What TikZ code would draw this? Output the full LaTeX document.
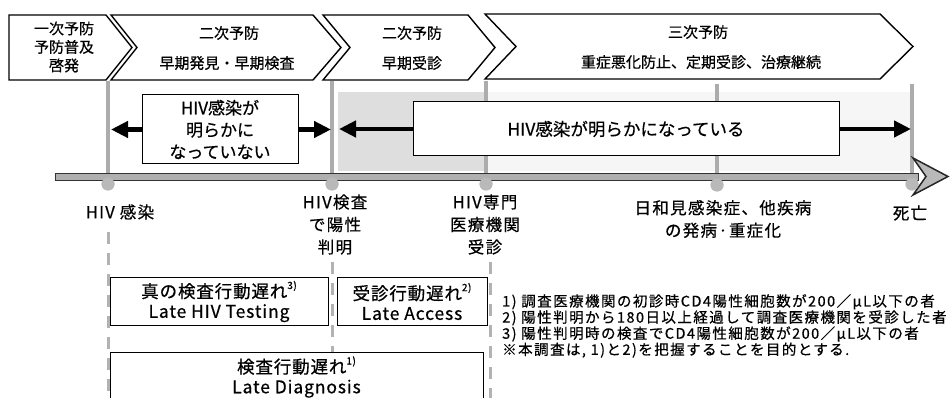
\documentclass[tikz,border=0pt]{standalone}
\usepackage{fontspec}
\setmainfont{Noto Sans CJK JP}[FakeBold=0.6]
\newfontfamily\jpsp{Noto Sans CJK JP}[LetterSpace=8,FakeBold=0.6]
\newfontfamily\jpspb{Noto Sans CJK JP}[LetterSpace=5,FakeBold=0.6]
\newfontfamily\jpnote{Noto Sans CJK JP}[LetterSpace=10,FakeBold=0.5]
\usetikzlibrary{arrows.meta}
\newcommand\supr[1]{\raisebox{0.5em}{\fontsize{10}{10}\selectfont #1}}
\begin{document}
\begin{tikzpicture}[x=1pt,y=-1pt,
  chev/.style={draw=black, line width=1.4pt, fill=white, line join=miter},
  vline/.style={draw=gray!65, line width=3.5pt},
  dline/.style={draw=gray!60, line width=3pt, dash pattern=on 12pt off 9pt},
  tdot/.style={circle, fill=gray!55, minimum size=13pt, inner sep=0pt},
  box/.style={draw=black, line width=1pt, fill=white, inner sep=0pt, align=center},
  barrow/.style={draw=black, line width=4.5pt, -{Triangle[length=17pt,width=16pt]}},
  lbl/.style={align=center, inner sep=0pt},
  chevtxt/.style={lbl, font=\fontsize{15}{18.5}\selectfont},
  tltxt/.style={lbl, font=\jpsp\fontsize{16.5}{22.5}\selectfont},
  lowbox/.style={box, font=\jpspb\fontsize{17.5}{20}\selectfont},
]
\useasboundingbox (0,0) rectangle (951,398);
\clip (0,0) rectangle (951,398);

% shaded period
\fill[gray!7] (338,92) rectangle (912,171);
\fill[gray!26] (338,92) rectangle (486,171);

% chevrons
\path[chev] (9,15) -- (106,15) -- (132,47.5) -- (106,80) -- (9,80) -- cycle;
\path[chev] (111,15) -- (313,15) -- (341,47.5) -- (313,80) -- (111,80) -- (137,47.5) -- cycle;
\path[chev] (323,15) -- (468,15) -- (495,47.5) -- (468,80) -- (323,80) -- (350,47.5) -- cycle;
\path[chev] (485,14) -- (880,14) -- (913,46.5) -- (880,79) -- (485,79) -- (516,46.5) -- cycle;

\node[chevtxt] (c1) at (64,47) {一次予防\\予防普及\\啓発};
\node[chevtxt] (c2a) at (229,33) {二次予防};
\node[chevtxt] (c2b) at (227,63) {早期発見・早期検査};
\node[chevtxt] (c3a) at (412,33) {二次予防};
\node[chevtxt] (c3b) at (412,63) {早期受診};
\node[chevtxt] (c4a) at (698,32) {三次予防};
\node[chevtxt] (c4b) at (701,62) {重症悪化防止、定期受診、治療継続};

% event dots and vertical lines
\node[tdot] (d1) at (108,184) {};
\node[tdot] (d2) at (332,184) {};
\node[tdot] (d3) at (486,184) {};
\node[tdot] (d4) at (717,185) {};
\node[tdot] (d5) at (912,184) {};
\coordinate (t1) at (108,81);
\coordinate (t2) at (332,81);
\coordinate (t3) at (486,81);
\coordinate (t4) at (717,84);
\coordinate (t5) at (912,84);
\draw[vline] (t1) -- (d1.center);
\draw[vline] (t2) -- (d2.center);
\draw[vline] (t3) -- (d3.center);
\draw[vline] (t4) -- (d4.center);
\draw[vline] (t5) -- (d5.center);

% timeline band
\coordinate (tl0) at (55,176.5);
\coordinate (tlE) at (948,176.5);
\fill[gray!62, draw=gray!40!black, line width=0.6pt] (55,173) rectangle (918,180);
\fill[gray!55, draw=gray!30!black, line width=1.5pt, line join=miter] (913,158) -- (tlE) -- (913,195) -- (926,176.5) -- cycle;

% redraw dots on top
\node[tdot] at (d1) {};
\node[tdot] at (d2) {};
\node[tdot] at (d3) {};
\node[tdot] at (d4) {};
\node[tdot] at (d5) {};

% state boxes
\node[box, minimum width=156pt, minimum height=69pt, font=\fontsize{17}{22}\selectfont] (nv) at (220,129.5) {HIV感染が\\明らかに\\なっていない};
\coordinate (nvL) at (111,129.5);
\coordinate (nvR) at (331,129.5);
\draw[barrow] (nv.west) -- (nvL);
\draw[barrow] (nv.east) -- (nvR);

\node[box, minimum width=426pt, minimum height=54pt, font=\fontsize{17.5}{22}\selectfont] (kv) at (626,129) {HIV感染が明らかになっている};
\coordinate (kvL) at (339,129);
\coordinate (kvR) at (911,129);
\draw[barrow] (kv.west) -- (kvL);
\draw[barrow] (kv.east) -- (kvR);

% event labels
\node[tltxt] (e1) at (120,212) {HIV 感染};
\node[tltxt] (e2) at (335,224.5) {HIV検査\\で陽性\\判明};
\node[tltxt] (e3) at (485,224.5) {HIV専門\\医療機関\\受診};
\node[tltxt] (e4) at (723,219) {日和見感染症、他疾病\\の発病·重症化};
\node[tltxt] (e5) at (910,213) {死亡};

% dashed guides
\coordinate (g1a) at (108,232);
\coordinate (g1b) at (108,398);
\coordinate (g2a) at (332,262);
\coordinate (g2b) at (332,398);
\coordinate (g3a) at (490,262);
\coordinate (g3b) at (490,398);
\draw[dline] (g1a) -- (g1b);
\draw[dline] (g2a) -- (g2b);
\draw[dline] (g3a) -- (g3b);

% delay boxes
\node[lowbox, minimum width=218pt, minimum height=47pt] (b1) at (219,301.5) {真の検査行動遅れ\supr{3)}\\Late HIV Testing};
\node[lowbox, minimum width=150pt, minimum height=47pt] (b2) at (412,301.5) {受診行動遅れ\supr{2)}\\Late Access};
\node[lowbox, minimum width=373pt, minimum height=50pt] (b3) at (296.5,377) {検査行動遅れ\supr{1)}\\Late Diagnosis};

% notes
\node[lbl, anchor=north west, align=left, font=\jpnote\fontsize{14.5}{15}\selectfont] (notes) at (502,294) {1) 調査医療機関の初診時CD4陽性細胞数が200／μL以下の者\\2) 陽性判明から180日以上経過して調査医療機関を受診した者\\3) 陽性判明時の検査でCD4陽性細胞数が200／μL以下の者\\※本調査は, 1)と2)を把握することを目的とする.};
\end{tikzpicture}
\end{document}
